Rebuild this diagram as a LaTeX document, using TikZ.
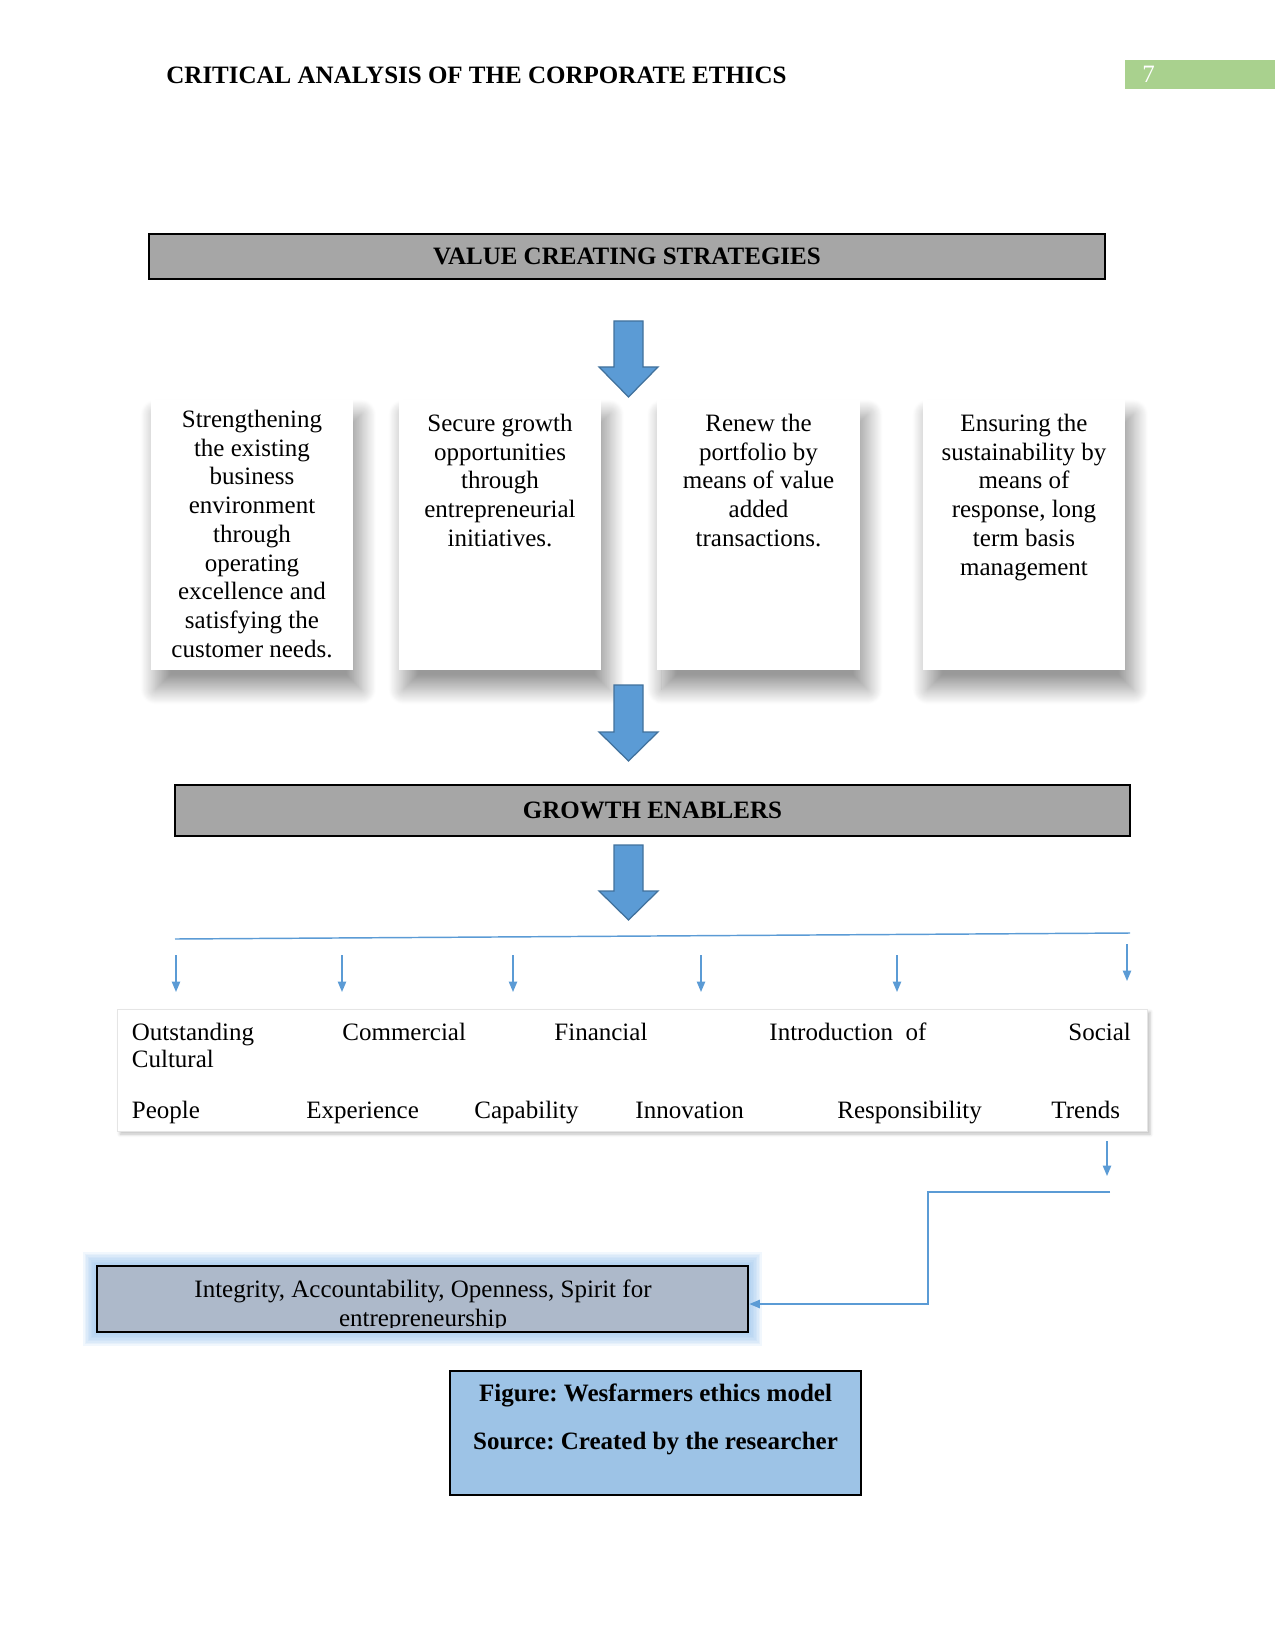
\documentclass[12pt,tikz,border=0pt]{standalone}
\usepackage{fontspec}
\setmainfont{Liberation Serif}
\frenchspacing
\usetikzlibrary{arrows.meta}
\usetikzlibrary{calc}
\usetikzlibrary{positioning}
\usetikzlibrary{backgrounds}
\usetikzlibrary{shadows.blur}
\definecolor{hdgray}{HTML}{A6A6A6}
\definecolor{arrfill}{HTML}{5B9BD5}
\definecolor{arrline}{HTML}{41719C}
\definecolor{lnblue}{HTML}{5B9BD5}
\definecolor{intfill}{HTML}{ADB9CA}
\definecolor{glow}{HTML}{8FBDEB}
\definecolor{capfill}{HTML}{9DC3E6}
\definecolor{pggreen}{HTML}{A9D18E}
\newcommand{\wsz}{\fontsize{12}{13.8}\selectfont}
\tikzstyle{hdbox}=[rectangle,draw=black,line width=1.1pt,fill=hdgray,font=\wsz\bfseries]
\tikzstyle{strat}=[rectangle,fill=white,minimum width=97pt,minimum height=129.6pt,blur shadow={shadow scale=1.02,shadow xshift=3pt,shadow yshift=-8pt,shadow blur radius=7pt,shadow blur steps=24,shadow opacity=40}]
\tikzstyle{stext}=[align=center,anchor=north,inner sep=0pt,font=\wsz]
\tikzstyle{etext}=[anchor=base west,inner sep=0pt,font=\wsz]
\tikzstyle{bigarr}=[fill=arrfill,draw=arrline,line width=0.6pt]
\tikzstyle{arr}=[-{Triangle[width=4pt,length=5pt]},draw=lnblue,line width=0.7pt]
\newcommand{\blockarrow}[4]{% x, top, head base, tip
  \draw[bigarr] (#1-14.5,#2) -- (#1+14.5,#2) -- (#1+14.5,#3) -- (#1+29.5,#3) -- (#1,#4) -- (#1-29.5,#3) -- (#1-14.5,#3) -- cycle;}

\begin{document}
\begin{tikzpicture}[x=0.48pt,y=-0.48pt]
    \useasboundingbox (0,0) rectangle (1275,1650);
    % running head
    \node[anchor=west,inner sep=0pt,font=\wsz\bfseries] (H) at (166,75) {CRITICAL ANALYSIS OF THE CORPORATE ETHICS};
    \node[rectangle,fill=pggreen,minimum width=72pt,minimum height=13.9pt,inner sep=0pt] (P) at (1200,74.5) {};
    \node[anchor=west,inner sep=0pt,text=white,font=\wsz] (N) at (1142,74.5) {7};
    % strategies
    \node[hdbox,minimum width=458.9pt,minimum height=21.6pt] (V) at (627,256.5) {VALUE CREATING STRATEGIES};
    \blockarrow{628.5}{321}{367}{397}
    \node[strat] (S1) at (252,535) {};
    \node[strat] (S2) at (500,535) {};
    \node[strat] (S3) at (758.5,535) {};
    \node[strat] (S4) at (1024,535) {};
    \node[stext] (T1) at ($(S1.north)+(0,10)$) {Strengthening\\the existing\\business\\environment\\through\\operating\\excellence and\\satisfying the\\customer needs.};
    \node[stext] (T2) at ($(S2.north)+(0,14)$) {Secure growth\\opportunities\\through\\entrepreneurial\\initiatives.};
    \node[stext] (T3) at ($(S3.north)+(0,14)$) {Renew the\\portfolio by\\means of value\\added\\transactions.};
    \node[stext] (T4) at ($(S4.north)+(0,14)$) {Ensuring the\\sustainability by\\means of\\response, long\\term basis\\management};
    \blockarrow{628.5}{685}{732}{761}
    % enablers
    \node[hdbox,minimum width=458.4pt,minimum height=24.5pt] (G) at (652.5,810.5) {GROWTH ENABLERS};
    \blockarrow{628.5}{845}{891}{920}
    \coordinate (L1) at (175,939);
    \coordinate (L2) at (1130,933);
    \draw[draw=lnblue,line width=0.7pt] (L1) -- (L2);
    \foreach \x [count=\i] in {176,342,513,701,897}{
      \coordinate (A\i) at (\x,955);
      \coordinate (B\i) at (\x,992);
      \draw[arr] (A\i) -- (B\i);
    }
    \coordinate (A6) at (1127,944);
    \coordinate (B6) at (1127,981);
    \draw[arr] (A6) -- (B6);
    \node[rectangle,fill=white,draw=black!10,minimum width=494.4pt,minimum height=58.6pt,blur shadow={shadow xshift=1.5pt,shadow yshift=-1.5pt,shadow blur radius=1.5pt,shadow opacity=25}] (E) at (632,1070) {};
    \node[etext] (E1) at (131.5,1040) {Outstanding};
    \node[etext] (E2) at (342,1040) {Commercial};
    \node[etext] (E3) at (554,1040) {Financial};
    \node[etext] (E4) at (769,1040) {Introduction~ of};
    \node[etext] (E5) at (1068,1040) {Social};
    \node[etext] (E6) at (131.5,1067) {Cultural};
    \node[etext] (E7) at (131.5,1118) {People};
    \node[etext] (E8) at (306,1118) {Experience};
    \node[etext] (E9) at (474,1118) {Capability};
    \node[etext] (E10) at (635,1118) {Innovation};
    \node[etext] (E11) at (837,1118) {Responsibility};
    \node[etext] (E12) at (1051,1118) {Trends};
    % values
    \coordinate (C1) at (1107,1141);
    \coordinate (C2) at (1107,1176);
    \draw[arr] (C1) -- (C2);
    \node[rectangle,draw=black,line width=1.3pt,fill=intfill,minimum width=312.5pt,minimum height=31.7pt] (I) at (422.5,1299) {};
    \begin{scope}[on background layer]
      \foreach \w in {1.5,3,...,12}
        \draw[glow,opacity=0.12,line width=\w pt] (I.north west) rectangle (I.south east);
    \end{scope}
    \begin{scope}
      \clip (97,1268) rectangle (748,1327);
      \node[align=center,inner sep=0pt,font=\wsz] (IT) at (423,1306) {Integrity, Accountability, Openness, Spirit for\\entrepreneurship};
    \end{scope}
    \coordinate (C3) at (1110,1192);
    \coordinate (C4) at (928,1192);
    \draw[arr] (C3) -- (C4) |- ($(I.east)+(0,5)$);
    % caption
    \node[rectangle,draw=black,line width=1.1pt,fill=capfill,minimum width=197.3pt,minimum height=59.5pt] (F) at (655.5,1433) {};
    \node[inner sep=0pt,font=\wsz\bfseries] (F1) at (655.5,1395) {Figure: Wesfarmers ethics model};
    \node[inner sep=0pt,font=\wsz\bfseries] (F2) at (655.5,1444) {Source: Created by the researcher};
\end{tikzpicture}
\end{document}
